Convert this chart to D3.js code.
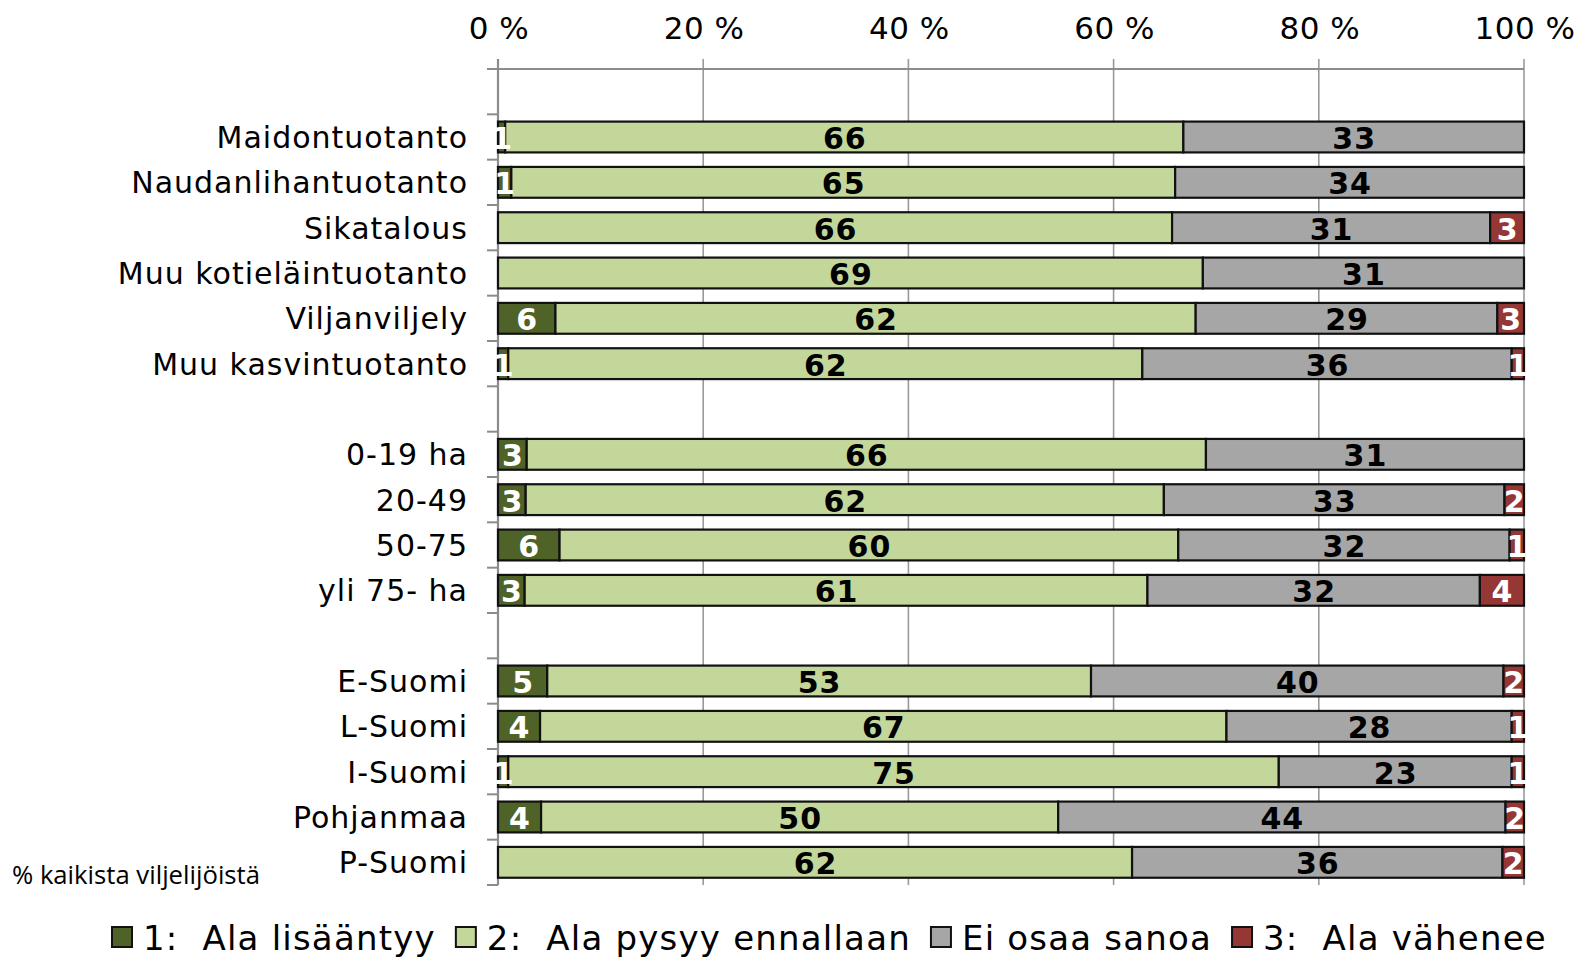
<!DOCTYPE html>
<html>
<head>
<meta charset="utf-8">
<script src="https://cdn.jsdelivr.net/npm/d3@7"></script>
<style>
  html, body { margin: 0; padding: 0; background: #fff; }
  svg { display: block; }
</style>
</head>
<body>
<svg id="chart"></svg>
<script>
// categories, "" = empty row between groups
const categories = ["", "Maidontuotanto", "Naudanlihantuotanto", "Sikatalous", "Muu kotieläintuotanto",
  "Viljanviljely", "Muu kasvintuotanto", "", "0-19 ha", "20-49", "50-75", "yli 75- ha", "",
  "E-Suomi", "L-Suomi", "I-Suomi", "Pohjanmaa", "P-Suomi"];

const lisaantyy = [null, 0.7, 1.3, 0, 0, 5.6, 1.0, null, 2.8, 2.7, 6.0, 2.6, null, 4.8, 4.1, 1.0, 4.2, 0];
const pysyy     = [null, 66.1, 64.7, 65.7, 68.7, 62.4, 61.8, null, 66.2, 62.2, 60.3, 60.7, null, 53.0, 66.9, 75.1, 50.4, 61.8];
const eiOsaa    = [null, 33.2, 34.0, 31.0, 31.3, 29.4, 36.0, null, 31.0, 33.2, 32.3, 32.4, null, 40.2, 27.8, 22.7, 43.6, 36.1];
const vahenee   = [null, 0, 0, 3.3, 0, 2.6, 1.2, null, 0, 1.9, 1.4, 4.3, null, 2.0, 1.2, 1.2, 1.8, 2.1];

const seriesNames = ["1:  Ala lisääntyy", "2:  Ala pysyy ennallaan", "Ei osaa sanoa", "3:  Ala vähenee"];
const seriesColors = ["#4f6228", "#c4d79b", "#a6a6a6", "#953735"];
const labelColors = ["#fff", "#000", "#000", "#fff"];
const xTicks = [0, 20, 40, 60, 80, 100];
const note = "% kaikista viljelijöistä";

const W = 1581, H = 959;
const svg = d3.select("#chart").attr("width", W).attr("height", H);

const x = d3.scaleLinear().domain([0, 100]).range([498, 1524]);
const y = d3.scaleBand().domain(d3.range(categories.length)).range([69, 885]).paddingInner(0.32).paddingOuter(0.16);

const rows = categories.map((c, i) => ({ i, name: c, vals: [lisaantyy[i], pysyy[i], eiOsaa[i], vahenee[i]] }))
  .filter(d => d.vals[0] !== null);

const stack = d3.stack().keys([0, 1, 2, 3]).value((d, k) => d.vals[k]);
const layers = stack(rows);

// grid lines
svg.append("g").selectAll("line")
  .data(xTicks).enter().append("line")
  .attr("x1", d => x(d)).attr("x2", d => x(d))
  .attr("y1", 59).attr("y2", 885)
  .style("stroke", "#9a9a9a").style("stroke-width", 1.6);

// top axis line
svg.append("line")
  .attr("x1", 487).attr("x2", x(100)).attr("y1", 69).attr("y2", 69)
  .style("stroke", "#8c8c8c").style("stroke-width", 2.2);

// left axis with ticks between categories
const bounds = d3.range(categories.length + 1).map(i => 69 + i * (816 / categories.length));
svg.append("line")
  .attr("x1", 498).attr("x2", 498).attr("y1", 59).attr("y2", 885)
  .style("stroke", "#8c8c8c").style("stroke-width", 2.2);
svg.append("g").selectAll("line")
  .data(bounds).enter().append("line")
  .attr("x1", 487).attr("x2", 498).attr("y1", d => d).attr("y2", d => d)
  .style("stroke", "#8c8c8c").style("stroke-width", 2);

// x tick labels
svg.append("g").selectAll("text")
  .data(xTicks).enter().append("text")
  .attr("x", d => x(d) + 1).attr("y", 39)
  .attr("text-anchor", "middle")
  .style("font-family", "DejaVu Sans, Verdana, sans-serif")
  .style("font-size", "31px")
  .style("letter-spacing", "0.5px")
  .style("fill", "#000")
  .text(d => d + " %");

// bars
const g = svg.append("g");
layers.forEach((layer, k) => {
  g.selectAll(".s" + k)
    .data(layer.filter(d => d[1] - d[0] > 0)).enter().append("rect")
    .attr("x", d => x(d[0]))
    .attr("y", d => y(d.data.i))
    .attr("width", d => x(d[1]) - x(d[0]))
    .attr("height", y.bandwidth())
    .style("fill", seriesColors[k])
    .style("stroke", "#111")
    .style("stroke-width", 2.2);
});

// value labels
layers.forEach((layer, k) => {
  g.selectAll(".l" + k)
    .data(layer.filter(d => d[1] - d[0] > 0)).enter().append("text")
    .attr("x", d => (x(d[0]) + x(d[1])) / 2 + 0.5)
    .attr("y", d => y(d.data.i) + y.bandwidth() / 2 + 12)
    .attr("text-anchor", "middle")
    .style("font-family", "DejaVu Sans, Verdana, sans-serif")
    .style("font-weight", "bold")
    .style("font-size", "30px")
    .style("letter-spacing", "1px")
    .style("fill", labelColors[k])
    .text(d => Math.round(d[1] - d[0]));
});

// category labels
svg.append("g").selectAll("text")
  .data(rows).enter().append("text")
  .attr("x", 468)
  .attr("y", d => y(d.i) + y.bandwidth() / 2 + 11)
  .attr("text-anchor", "end")
  .style("font-family", "DejaVu Sans, Verdana, sans-serif")
  .style("font-size", "30px")
  .style("letter-spacing", "1px")
  .style("fill", "#000")
  .text(d => d.name);

// note
svg.append("text")
  .attr("x", 12).attr("y", 884)
  .attr("textLength", 248).attr("lengthAdjust", "spacingAndGlyphs")
  .style("font-family", "Liberation Sans Narrow, Open Sans, sans-serif")
  .style("font-size", "26px")
  .style("fill", "#000")
  .text(note);

// legend
const legend = svg.append("g");
let lx = 112;
seriesNames.forEach((name, k) => {
  legend.append("rect")
    .attr("x", lx).attr("y", 927).attr("width", 20).attr("height", 20)
    .style("fill", seriesColors[k]).style("stroke", "#111").style("stroke-width", 2);
  const t = legend.append("text")
    .attr("x", lx + 31).attr("y", 950)
    .attr("xml:space", "preserve")
    .style("white-space", "pre")
    .style("font-family", "DejaVu Sans, Verdana, sans-serif")
    .style("font-size", "34px")
    .style("letter-spacing", "1.2px")
    .style("fill", "#000")
    .text(name);
  lx += 31 + t.node().getComputedTextLength() + 20;
});
</script>
</body>
</html>
